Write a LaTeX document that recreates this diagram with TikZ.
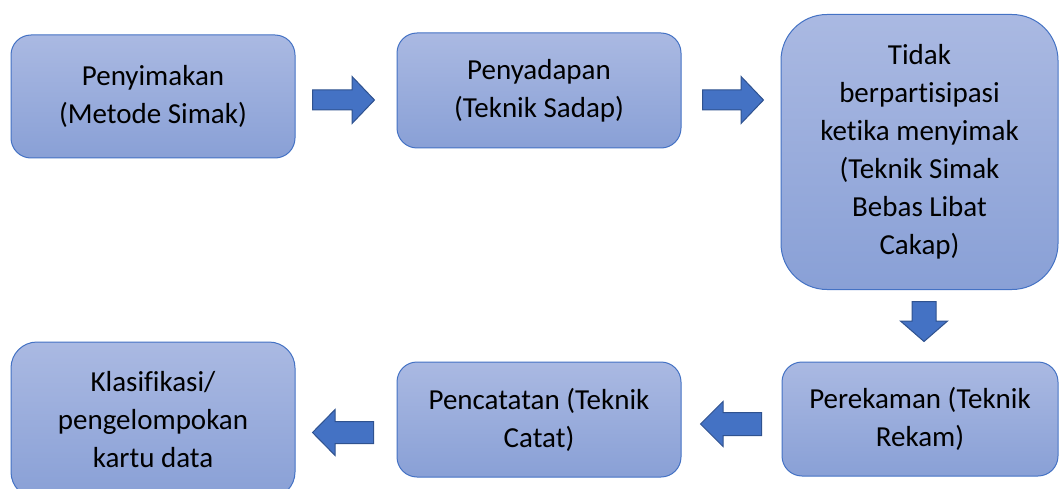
\documentclass[tikz,border=0pt]{standalone}
\usepackage{fontspec}
\setmainfont{Carlito}[Ligatures=NoCommon]
\usetikzlibrary{shapes.arrows}
\definecolor{boxtop}{RGB}{170,185,226}
\definecolor{boxbot}{RGB}{137,160,214}
\definecolor{boxline}{RGB}{68,114,196}
\definecolor{arrowfill}{RGB}{68,114,196}
\definecolor{arrowline}{RGB}{47,82,143}
\begin{document}
\begin{tikzpicture}[x=1pt, y=-1pt,
    kotak/.style={draw=boxline, line width=1pt, rounded corners=20pt, top color=boxtop, bottom color=boxbot,
        align=center, inner sep=0pt, text=black, font=\fontsize{29}{38}\selectfont},
    panah/.style={single arrow, draw=arrowline, fill=arrowfill, line width=1pt, inner xsep=0pt, anchor=tail}]
    \useasboundingbox (0,0) rectangle (1059,489);
    % Baris atas
    \node[kotak, minimum width=284pt, minimum height=123pt] (simak) at (153,96.5) {Penyimakan\\(Metode Simak)};
    \node[kotak, minimum width=284pt, minimum height=115pt] (sadap) at (539,90.5) {Penyadapan\\(Teknik Sadap)};
    \node[kotak, minimum width=277pt, minimum height=275pt, rounded corners=46pt] (sbll) at (919.5,152)
        {Tidak\\berpartisipasi\\ketika menyimak\\(Teknik Simak\\Bebas Libat\\Cakap)};
    % Baris bawah
    \node[kotak, minimum width=276pt, minimum height=114pt] (rekam) at (920,419) {Perekaman (Teknik\\Rekam)};
    \node[kotak, minimum width=284pt, minimum height=115pt] (catat) at (539,419.5) {Pencatatan (Teknik\\Catat)};
    \node[kotak, minimum width=284pt, minimum height=156pt, rounded corners=26pt] (klas) at (153,420)
        {Klasifikasi/\\pengelompokan\\kartu data};
    % Panah
    \node[panah, inner ysep=9.5pt, single arrow head extend=13.5pt, single arrow tip angle=92.6,
        minimum height=62pt] (p1) at (312,100) {};
    \node[panah, inner ysep=9.5pt, single arrow head extend=13.5pt, single arrow tip angle=92.6,
        minimum height=61pt] (p2) at (702,100) {};
    \node[panah, rotate=270, inner ysep=11.5pt, single arrow head extend=11.5pt, single arrow tip angle=98,
        minimum height=40pt] (p3) at (924,301) {};
    \node[panah, rotate=180, inner ysep=11pt, single arrow head extend=11pt, single arrow tip angle=90,
        minimum height=61pt] (p4) at (762,424) {};
    \node[panah, rotate=180, inner ysep=10.5pt, single arrow head extend=12pt, single arrow tip angle=91,
        minimum height=61pt] (p5) at (374,432.5) {};
\end{tikzpicture}
\end{document}
